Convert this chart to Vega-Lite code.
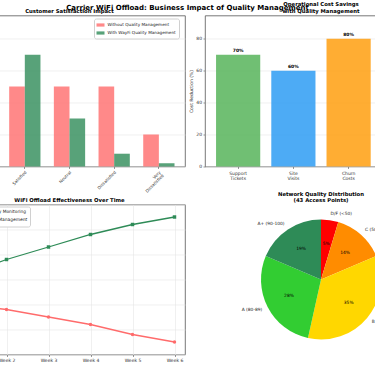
{
  "$schema": "https://vega.github.io/schema/vega-lite/v6.json",
  "padding": {"left": -47, "top": 1.5, "right": -61, "bottom": 0},
  "background": "white",
  "title": {"text": "Carrier WiFi Offload: Business Impact of Quality Management", "fontSize": 7, "fontWeight": "bold", "font": "DejaVu Sans", "anchor": "middle", "dx": -8, "offset": -9, "color": "#000"},
  "columns": 2,
  "spacing": {"row": 38, "column": 20},
  "bounds": "flush",
  "resolve": {"scale": {"color": "independent", "shape": "independent"}, "legend": {"color": "independent", "shape": "independent"}},
  "config": {
    "font": "DejaVu Sans",
    "view": {"stroke": "#555", "strokeWidth": 0.8},
    "axis": {"labelFont": "DejaVu Sans", "labelFontSize": 4.5, "labelColor": "#333", "tickColor": "#555", "tickSize": 2, "tickWidth": 0.6, "domain": false, "gridColor": "#e6e6e6", "gridWidth": 0.6, "titleFont": "DejaVu Sans", "titleFontSize": 4.5, "titleFontWeight": "normal", "titleColor": "#333", "labelPadding": 1.5},
    "title": {"font": "DejaVu Sans", "fontWeight": "bold", "fontSize": 5.3, "color": "#000", "offset": 1.5},
    "legend": {"labelFont": "DejaVu Sans"}
  },
  "concat": [
    {
      "title": {"text": "Customer Satisfaction Impact"},
      "width": 231,
      "height": 151,
      "data": {"values": [
        {"level": "Very Satisfied", "group": "Without Quality Management", "pct": 15},
        {"level": "Very Satisfied", "group": "With WayFi Quality Management", "pct": 45},
        {"level": "Satisfied", "group": "Without Quality Management", "pct": 25},
        {"level": "Satisfied", "group": "With WayFi Quality Management", "pct": 35},
        {"level": "Neutral", "group": "Without Quality Management", "pct": 25},
        {"level": "Neutral", "group": "With WayFi Quality Management", "pct": 15},
        {"level": "Dissatisfied", "group": "Without Quality Management", "pct": 25},
        {"level": "Dissatisfied", "group": "With WayFi Quality Management", "pct": 4},
        {"level": "Very Dissatisfied", "group": "Without Quality Management", "pct": 10},
        {"level": "Very Dissatisfied", "group": "With WayFi Quality Management", "pct": 1}
      ]},
      "mark": {"type": "bar", "opacity": 0.8},
      "encoding": {
        "x": {"field": "level", "type": "nominal", "sort": ["Very Satisfied", "Satisfied", "Neutral", "Dissatisfied", "Very Dissatisfied"], "scale": {"paddingInner": 0.3, "paddingOuter": 0.235}, "axis": {"title": null, "labelAngle": -45, "labelAlign": "right", "labelBaseline": "top", "labelExpr": "split(datum.label, ' ')", "grid": false, "labelFontSize": 4.2, "labelLineHeight": 4.6}},
        "xOffset": {"field": "group", "type": "nominal", "sort": ["Without Quality Management", "With WayFi Quality Management"], "scale": {"paddingInner": 0, "paddingOuter": 0}},
        "y": {"field": "pct", "type": "quantitative", "scale": {"domain": [0, 47.25], "nice": false}, "axis": {"title": null, "labels": false, "ticks": false, "values": [0, 10, 20, 30, 40], "grid": true}},
        "color": {"field": "group", "type": "nominal", "scale": {"domain": ["Without Quality Management", "With WayFi Quality Management"], "range": ["#ff6b6b", "#2e8b57"]},
          "legend": {"title": null, "orient": "none", "legendX": 140, "legendY": 3, "direction": "vertical", "labelFontSize": 4.2, "labelColor": "#222", "symbolType": "M-1,-0.4L1,-0.4L1,0.4L-1,0.4Z", "symbolSize": 64, "symbolStrokeWidth": 0, "symbolOpacity": 0.8, "fillColor": "white", "strokeColor": "#d0d0d0", "padding": 2.5, "cornerRadius": 2, "rowPadding": 1, "labelOffset": 3}}
      }
    },
    {
      "title": {"text": ["Operational Cost Savings", "with Quality Management"], "lineHeight": 6.5},
      "width": 232,
      "height": 151,
      "data": {"values": [
        {"item": "Support Tickets", "v": 70},
        {"item": "Site Visits", "v": 60},
        {"item": "Churn Costs", "v": 80},
        {"item": "Energy Costs", "v": 90}
      ]},
      "encoding": {
        "x": {"field": "item", "type": "nominal", "sort": null, "scale": {"paddingInner": 0.2, "paddingOuter": 0.2}, "axis": {"title": null, "labelAngle": 0, "labelExpr": "split(datum.label, ' ')", "grid": false, "labelLineHeight": 5.2, "labelPadding": 2}},
        "y": {"field": "v", "type": "quantitative", "scale": {"domain": [0, 94.5], "nice": false}, "axis": {"title": "Cost Reduction (%)", "values": [0, 20, 40, 60, 80], "grid": true, "titlePadding": 2}}
      },
      "layer": [
        {"mark": {"type": "bar", "opacity": 0.8},
         "encoding": {"color": {"field": "item", "type": "nominal", "scale": {"domain": ["Support Tickets", "Site Visits", "Churn Costs", "Energy Costs"], "range": ["#4caf50", "#2196f3", "#ff9800", "#9c27b0"]}, "legend": null}}},
        {"mark": {"type": "text", "fontWeight": "bold", "fontSize": 4.5, "baseline": "bottom", "dy": -2, "color": "#000", "text": {"expr": "datum.v + '%'"}}}
      ]
    },
    {
      "title": {"text": "WiFi Offload Effectiveness Over Time"},
      "width": 231,
      "height": 150,
      "data": {"values": [
        {"week": "Week 1", "series": "Without Quality Monitoring", "v": 60},
        {"week": "Week 2", "series": "Without Quality Monitoring", "v": 58},
        {"week": "Week 3", "series": "Without Quality Monitoring", "v": 55},
        {"week": "Week 4", "series": "Without Quality Monitoring", "v": 52},
        {"week": "Week 5", "series": "Without Quality Monitoring", "v": 48},
        {"week": "Week 6", "series": "Without Quality Monitoring", "v": 45},
        {"week": "Week 1", "series": "WayFi Quality Management", "v": 72},
        {"week": "Week 2", "series": "WayFi Quality Management", "v": 78},
        {"week": "Week 3", "series": "WayFi Quality Management", "v": 83},
        {"week": "Week 4", "series": "WayFi Quality Management", "v": 88},
        {"week": "Week 5", "series": "WayFi Quality Management", "v": 92},
        {"week": "Week 6", "series": "WayFi Quality Management", "v": 95}
      ]},
      "encoding": {
        "x": {"field": "week", "type": "ordinal", "scale": {"type": "point", "padding": 0.25}, "axis": {"title": null, "labelAngle": 0, "grid": true, "labelPadding": 0.5}},
        "y": {"field": "v", "type": "quantitative", "scale": {"domain": [40, 100], "nice": false}, "axis": {"title": null, "labels": false, "ticks": false, "values": [40, 50, 60, 70, 80, 90, 100], "grid": true}},
        "color": {"field": "series", "type": "nominal", "scale": {"domain": ["Without Quality Monitoring", "WayFi Quality Management"], "range": ["#ff6b6b", "#2e8b57"]},
          "legend": {"title": null, "orient": "none", "legendX": 2, "legendY": 2, "direction": "vertical", "labelFontSize": 4.4, "labelColor": "#222", "symbolType": "stroke", "symbolSize": 16, "symbolStrokeWidth": 1.3, "fillColor": "white", "strokeColor": "#d0d0d0", "padding": 2, "cornerRadius": 2, "rowPadding": -3, "labelOffset": 3}}
      },
      "layer": [
        {"mark": {"type": "line", "strokeWidth": 1.3}},
        {"mark": {"type": "point", "filled": true, "size": 12, "opacity": 1},
         "encoding": {"shape": {"field": "series", "type": "nominal", "scale": {"domain": ["Without Quality Monitoring", "WayFi Quality Management"], "range": ["circle", "square"]}, "legend": null}}}
      ]
    },
    {
      "title": {"text": ["Network Quality Distribution", "(43 Access Points)"], "lineHeight": 6.2},
      "width": 232,
      "height": 150,
      "view": {"stroke": null},
      "data": {"values": [
        {"grade": "D/F (<50)", "count": 2, "ord": 1, "pct": "5%"},
        {"grade": "C (50-69)", "count": 6, "ord": 2, "pct": "14%"},
        {"grade": "B (70-79)", "count": 15, "ord": 3, "pct": "35%"},
        {"grade": "A (80-89)", "count": 12, "ord": 4, "pct": "28%"},
        {"grade": "A+ (90-100)", "count": 8, "ord": 5, "pct": "19%"}
      ]},
      "encoding": {
        "theta": {"field": "count", "type": "quantitative", "stack": true},
        "order": {"field": "ord", "type": "quantitative"}
      },
      "layer": [
        {"mark": {"type": "arc", "outerRadius": 60},
         "encoding": {"color": {"field": "grade", "type": "nominal", "sort": null, "scale": {"domain": ["D/F (<50)", "C (50-69)", "B (70-79)", "A (80-89)", "A+ (90-100)"], "range": ["#ff0000", "#ff8c00", "#ffd700", "#32cd32", "#2e8b57"]}, "legend": null}}},
        {"mark": {"type": "text", "radius": 66, "fontSize": 4.4, "color": "#222", "baseline": "middle", "align": {"expr": "indexof(['A (80-89)', 'A+ (90-100)'], datum.grade) >= 0 ? 'right' : 'left'"}},
         "encoding": {"text": {"field": "grade"}}},
        {"mark": {"type": "text", "radius": 36, "fontSize": 4.4, "color": "#000", "baseline": "middle", "align": "center"},
         "encoding": {"text": {"field": "pct"}}}
      ]
    }
  ]
}
